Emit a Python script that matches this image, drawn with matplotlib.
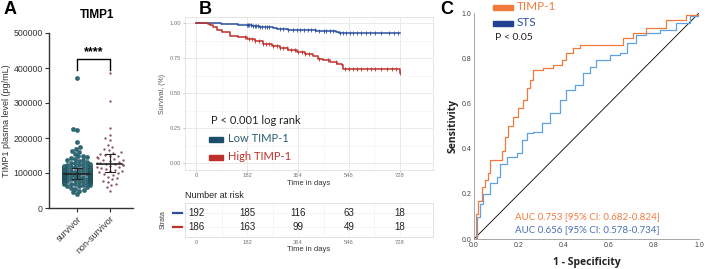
import numpy as np
import pandas as pd
import matplotlib
matplotlib.use("Agg")
import matplotlib.pyplot as plt
import seaborn as sns

W, H = 709, 269

# ---- panel A data (pg/mL, thousands) ----
survivor_k = [40, 45, 50, 52, 55, 58, 60, 62, 63, 65, 66, 68, 69, 70, 71, 72, 73, 74, 75, 75,
              76, 77, 78, 78, 79, 80, 80, 81, 82, 82, 83, 84, 84, 85, 85, 86, 86, 87, 87, 88,
              88, 89, 89, 90, 90, 90, 91, 91, 92, 92, 93, 93, 94, 94, 95, 95, 95, 96, 96, 97,
              97, 98, 98, 99, 99, 100, 100, 101, 101, 102, 102, 103, 104, 104, 105, 105, 106,
              107, 108, 108, 109, 110, 110, 111, 112, 113, 114, 115, 115, 116, 117, 118, 119,
              120, 121, 122, 124, 125, 126, 128, 130, 132, 134, 136, 138, 140, 142, 145, 148,
              150, 155, 160, 163, 170, 175, 190, 222, 226, 372]
nonsurvivor_k = [50, 60, 65, 70, 75, 78, 82, 85, 90, 95, 98, 100, 102, 105, 107, 110, 112, 115,
                 117, 118, 120, 122, 123, 125, 126, 128, 130, 132, 134, 136, 138, 140, 142, 145,
                 148, 150, 152, 155, 158, 160, 165, 170, 175, 180, 195, 200, 210, 230, 305, 385]
groups = ["survivor", "non-survivor"]
a_yticks = [0, 100000, 200000, 300000, 400000, 500000]

# ---- panel B data ----
low_t = [0, 50, 90, 120, 150, 175, 200, 225, 250, 275, 290, 330, 400, 430, 500, 510, 728]
low_s = [1.0, 0.997, 0.995, 0.99, 0.987, 0.983, 0.98, 0.975, 0.97, 0.962, 0.955, 0.952, 0.948,
         0.94, 0.937, 0.928, 0.928]
high_t = [0, 44, 50, 62, 74, 92, 121, 151, 181, 211, 240, 270, 300, 329, 359, 389, 419, 437,
          454, 478, 502, 520, 526, 722, 728]
high_s = [1.0, 0.995, 0.988, 0.971, 0.952, 0.933, 0.91, 0.9, 0.886, 0.869, 0.85, 0.833, 0.821,
          0.81, 0.793, 0.781, 0.762, 0.743, 0.733, 0.719, 0.707, 0.7, 0.674, 0.674, 0.643]
low_cens = [181, 186, 190, 196, 203, 210, 215, 222, 230, 236, 245, 252, 260, 300, 310, 330, 345,
            360, 372, 385, 400, 410, 425, 440, 455, 465, 478, 490, 515, 525, 535, 548, 560, 575,
            590, 605, 620, 640, 660, 690, 705, 722]
high_cens = [175, 190, 200, 212, 225, 240, 250, 262, 275, 288, 300, 312, 325, 340, 352, 365, 378,
             390, 405, 440, 470, 500, 530, 545, 560, 575, 590, 610, 625, 640, 660, 680, 700, 715, 728]
km_ticks = [0, 182, 364, 546, 728]
risk_low = [192, 185, 116, 63, 18]
risk_high = [186, 163, 99, 49, 18]

# ---- panel C data ----
timp_fpr = [0.0, 0.009, 0.019, 0.034, 0.049, 0.064, 0.071, 0.10, 0.123, 0.138, 0.152, 0.175,
            0.197, 0.219, 0.234, 0.249, 0.263, 0.308, 0.352, 0.389, 0.411, 0.441, 0.47, 0.648,
            0.663, 0.707, 0.766, 0.855, 0.944, 1.0]
timp_tpr = [0.0, 0.11, 0.17, 0.23, 0.26, 0.29, 0.35, 0.35, 0.39, 0.45, 0.50, 0.54, 0.58, 0.615,
            0.667, 0.704, 0.749, 0.756, 0.771, 0.793, 0.822, 0.845, 0.86, 0.86, 0.889, 0.911,
            0.933, 0.97, 0.993, 1.0]
sts_fpr = [0.0, 0.012, 0.027, 0.041, 0.071, 0.10, 0.115, 0.145, 0.189, 0.212, 0.234, 0.263, 0.30,
           0.337, 0.382, 0.411, 0.448, 0.485, 0.515, 0.544, 0.604, 0.648, 0.678, 0.722, 0.766,
           0.825, 0.899, 0.959, 1.0]
sts_tpr = [0.0, 0.098, 0.157, 0.201, 0.246, 0.275, 0.334, 0.364, 0.379, 0.438, 0.467, 0.475,
           0.512, 0.556, 0.615, 0.66, 0.682, 0.734, 0.763, 0.793, 0.815, 0.822, 0.867, 0.904,
           0.911, 0.926, 0.956, 0.985, 1.0]

TEAL = "#2c6b78"
BROWN = "#8a5560"
BLUE = "#2a4f9e"
RED = "#c0302a"
ORANGE = "#f07a3c"
LBLUE = "#5ea3e0"
FONT = "Liberation Sans"
plt.rcParams["font.family"] = FONT


def box(x0, y0, x1, y1):
    # pixel box (top-left origin) -> figure fraction rect
    return [x0 / W, 1 - y1 / H, (x1 - x0) / W, (y1 - y0) / H]


fig = plt.figure(figsize=(W / 100, H / 100), dpi=100)

# ================= A =================
axA = fig.add_axes(box(49, 33, 133, 208))
axA.set_xlim(-0.85, 1.7)
axA.set_ylim(0, 500000)
df = pd.DataFrame({
    "group": ["survivor"] * len(survivor_k) + ["non-survivor"] * len(nonsurvivor_k),
    "value": [v * 1000 for v in survivor_k + nonsurvivor_k],
})
# lay out the swarms with a spacing size, then redraw the dots at their own size
layout = [("survivor", 3.0, 3.0, TEAL, "#1c4550", 0.3), ("non-survivor", 3.4, 1.7, BROWN, BROWN, 0)]
offs = []
for name, lay_size, _, c, _, _ in layout:
    n_before = len(axA.collections)
    sns.swarmplot(data=df[df.group == name], x="group", y="value", order=groups, ax=axA,
                  size=lay_size, color=c)
    axA.set_xlim(-0.85, 1.7)
    axA.set_ylim(0, 500000)
    fig.canvas.draw()
    new = axA.collections[n_before:]
    xy = [col.get_offsets().copy() for col in new if len(col.get_offsets()) > 0]
    offs.append(np.vstack(xy))
for col in list(axA.collections):
    col.remove()
for (name, _, sz, c, ec, lw), xy in zip(layout, offs):
    axA.plot(xy[:, 0], xy[:, 1], ls="none", marker="o", ms=sz, mfc=c, mec=ec, mew=lw, zorder=3)
for i, vals in enumerate([survivor_k, nonsurvivor_k]):
    v = np.array(vals) * 1000
    q1, med, q3 = np.percentile(v, [25, 50, 75])
    axA.plot([i - 0.38, i + 0.38], [med, med], color="#222222", lw=1.2, zorder=5)
    axA.plot([i, i], [q1, q3], color="#222222", lw=0.8, zorder=5)
    axA.plot([i - 0.15, i + 0.15], [q1, q1], color="#222222", lw=0.8, zorder=5)
    axA.plot([i - 0.15, i + 0.15], [q3, q3], color="#222222", lw=0.8, zorder=5)
axA.plot([0, 0, 1, 1], [393000, 425000, 425000, 393000], color="black", lw=1.0)
axA.text(0.5, 428000, "****", ha="center", va="bottom", fontsize=9, fontweight="bold")
axA.set_xlim(-0.85, 1.7)
axA.set_ylim(0, 500000)
axA.set_yticks(a_yticks)
axA.set_yticklabels([str(t) for t in a_yticks], fontsize=6.3, color="#333333")
axA.set_xticks([0, 1])
axA.set_xticklabels(groups, rotation=45, ha="right", rotation_mode="anchor", fontsize=6.5,
                    color="#333333")
axA.set_xlabel("")
axA.set_ylabel("TIMP1 plasma level (pg/mL)", fontsize=6.5, color="#333333", labelpad=2)
for s in ["top", "right"]:
    axA.spines[s].set_visible(False)
for s in ["left", "bottom"]:
    axA.spines[s].set_linewidth(1.0)
    axA.spines[s].set_color("#333333")
axA.tick_params(length=3, width=0.8, pad=1.5, colors="#333333")
fig.text(97 / W, 1 - 15 / H, "TIMP1", ha="center", va="center", fontsize=8.5, fontweight="bold")
fig.text(4 / W, 1 - 10 / H, "A", ha="left", va="center", fontsize=13, fontweight="bold")

# ================= B =================
axB = fig.add_axes(box(185, 17, 433, 170))
xl = (-39.3, 845.8)
for t, s, c in [(low_t, low_s, BLUE), (high_t, high_s, RED)]:
    axB.step(t, s, where="post", color=c, lw=1.1, zorder=3)
for ct, t, s, c in [(low_cens, low_t, low_s, BLUE), (high_cens, high_t, high_s, RED)]:
    idx = np.searchsorted(t, ct, side="right") - 1
    axB.plot(ct, np.array(s)[idx], ls="none", marker="|", ms=3.5, mew=0.6, color=c, zorder=4)
axB.set_xlim(*xl)
axB.set_ylim(-0.05, 1.043)
axB.set_xticks(km_ticks)
axB.set_xticks([91, 273, 455, 637], minor=True)
axB.set_yticks([0, 0.25, 0.5, 0.75, 1.0])
axB.set_yticks([0.125, 0.375, 0.625, 0.875], minor=True)
axB.set_yticklabels(["0.00", "0.25", "0.50", "0.75", "1.00"], fontsize=4.2, color="#777777")
axB.set_xticklabels([str(t) for t in km_ticks], fontsize=4.2, color="#777777")
axB.grid(True, which="major", color="#e6e6e6", lw=0.6)
axB.grid(True, which="minor", color="#f2f2f2", lw=0.4)
axB.tick_params(which="major", length=1.5, width=0.4, color="#999999", pad=1)
axB.tick_params(which="minor", length=0)
axB.set_axisbelow(True)
for s in axB.spines.values():
    s.set_color("#e0e0e0")
    s.set_linewidth(0.6)
axB.set_xlabel("Time in days", fontsize=5.5, color="#333333", labelpad=1)
axB.set_ylabel("Survival, (%)", fontsize=5, color="#555555", labelpad=3)
fig.text(211 / W, 1 - 121 / H, "P < 0.001 log rank", ha="left", va="center", fontsize=8,
         family="Lato", color="#222222")
for yy, lab, pc, tc in [(139, "Low TIMP-1", "#1d4f68", "#2b5d70"), (157, "High TIMP-1", RED, RED)]:
    fig.patches.append(plt.Rectangle((209 / W, 1 - (yy + 2.5) / H), 14 / W, 5 / H,
                                     transform=fig.transFigure, color=pc))
    fig.text(228 / W, 1 - yy / H, lab, ha="left", va="center", fontsize=8, family="Lato", color=tc)
fig.text(205 / W, 1 - 10 / H, "B", ha="center", va="center", fontsize=13, fontweight="bold")

# risk table
axR = fig.add_axes(box(185, 203, 433, 237))
axR.set_xlim(*xl)
axR.set_ylim(0, 1)
for k, t in enumerate(km_ticks):
    axR.text(t, 0.7, str(risk_low[k]), ha="center", va="center", fontsize=7, color="#222222")
    axR.text(t, 0.3, str(risk_high[k]), ha="center", va="center", fontsize=7, color="#222222")
axR.set_xticks(km_ticks)
axR.set_xticklabels([str(t) for t in km_ticks], fontsize=4.2, color="#777777")
axR.set_xticks([91, 273, 455, 637], minor=True)
axR.set_yticks([0.3, 0.7])
axR.set_yticklabels([])
axR.grid(True, which="both", color="#f0f0f0", lw=0.5)
axR.tick_params(which="both", length=0, pad=2)
for s in axR.spines.values():
    s.set_color("#dddddd")
    s.set_linewidth(0.6)
axR.set_xlabel("Time in days", fontsize=5.5, color="#333333", labelpad=1)
for yy, c in [(0.7, BLUE), (0.3, RED)]:
    axR.plot([-0.05, -0.012], [yy, yy], transform=axR.transAxes, color=c, lw=1.6, clip_on=False)
fig.text(163 / W, 1 - 220 / H, "Strata", rotation=90, ha="center", va="center", fontsize=5,
         color="#444444")
fig.text(185 / W, 1 - 196 / H, "Number at risk", ha="left", va="center", fontsize=6.5,
         color="#222222")

# ================= C =================
axC = fig.add_axes(box(474, 13, 699, 239))
axC.plot([0, 1], [0, 1], color="black", lw=0.6)
axC.step(sts_fpr, sts_tpr, where="post", color=LBLUE, lw=0.9)
axC.step(timp_fpr, timp_tpr, where="post", color=ORANGE, lw=0.9)
axC.set_xlim(0, 1)
axC.set_ylim(0, 1)
ticks = [0, 0.2, 0.4, 0.6, 0.8, 1.0]
axC.set_xticks(ticks)
axC.set_yticks(ticks)
axC.set_xticklabels([f"{t:.1f}" for t in ticks], fontsize=5, color="#444444")
axC.set_yticklabels([f"{t:.1f}" for t in ticks], fontsize=5, color="#444444")
axC.tick_params(length=0, pad=2)
for s in ["top", "right"]:
    axC.spines[s].set_visible(False)
for s in ["left", "bottom"]:
    axC.spines[s].set_color("#999999")
    axC.spines[s].set_linewidth(0.6)
axC.set_xlabel("1 - Specificity", fontsize=7.5, fontweight="bold", family="Open Sans",
               color="#222222", labelpad=6)
axC.set_ylabel("Sensitivity", fontsize=7.5, fontweight="bold", family="Open Sans",
               color="#222222", labelpad=2)
for yy, lab, pc, tc in [(7, "TIMP-1", ORANGE, ORANGE), (23, "STS", "#1f4390", "#2a4f9e")]:
    fig.patches.append(plt.Rectangle((493 / W, 1 - (yy + 2.5) / H), 20 / W, 5 / H,
                                     transform=fig.transFigure, color=pc))
    fig.text(517 / W, 1 - yy / H, lab, ha="left", va="center", fontsize=8.5, family="Lato",
             color=tc)
fig.text(495 / W, 1 - 38 / H, "P < 0.05", ha="left", va="center", fontsize=7.5, family="Lato",
         color="#222222")
fig.text(515 / W, 1 - 217 / H, "AUC 0.753 [95% CI: 0.682-0.824]", ha="left", va="center",
         fontsize=7, family="Lato", color=ORANGE)
fig.text(515 / W, 1 - 230 / H, "AUC 0.656 [95% CI: 0.578-0.734]", ha="left", va="center",
         fontsize=7, family="Lato", color="#4a6fb5")
fig.text(447 / W, 1 - 10 / H, "C", ha="center", va="center", fontsize=13, fontweight="bold")

fig.savefig("out.png", dpi=100)
